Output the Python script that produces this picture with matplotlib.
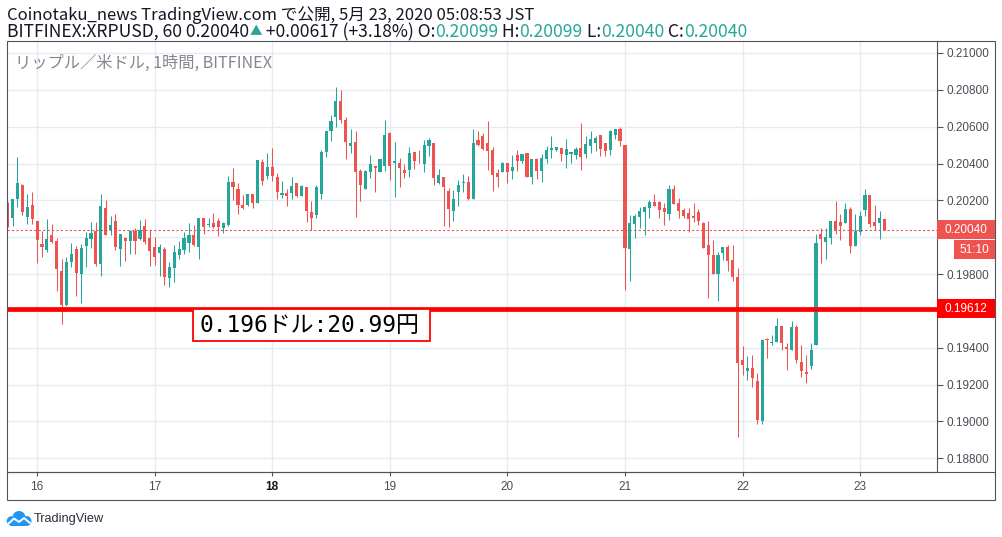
import matplotlib
matplotlib.use("Agg")
import matplotlib.pyplot as plt
from matplotlib.patches import Rectangle, Circle
from matplotlib.lines import Line2D
import numpy as np
import pandas as pd

# hourly XRPUSD candles, 2020-05-15 18:00 .. 2020-05-23 05:00
first_bar = "2020-05-15 18:00"

opens = [
    0.20150, 0.20105, 0.20206, 0.20282, 0.20110, 0.20174, 0.20087, 0.19962, 0.19929, 0.20011,
    0.19978, 0.19815, 0.19631, 0.19864, 0.19935, 0.19799, 0.19953, 0.19989, 0.20033, 0.19853,
    0.20157, 0.20040, 0.20087, 0.19937, 0.19996, 0.19980, 0.20033, 0.19989, 0.20060, 0.19995,
    0.19946, 0.19915, 0.19937, 0.19779, 0.19835, 0.19902, 0.19929, 0.19969, 0.20011, 0.19948,
    0.20103, 0.20065, 0.20076, 0.20087, 0.20051, 0.20065, 0.20299, 0.20261, 0.20174, 0.20174,
    0.20233, 0.20186, 0.20407, 0.20331, 0.20380, 0.20326, 0.20228, 0.20239, 0.20239, 0.20293,
    0.20223, 0.20271, 0.20136, 0.20119, 0.20232, 0.20462, 0.20579, 0.20655, 0.20737, 0.20639,
    0.20494, 0.20519, 0.20358, 0.20264, 0.20353, 0.20384, 0.20353, 0.20389, 0.20565, 0.20402,
    0.20405, 0.20367, 0.20366, 0.20462, 0.20405, 0.20398, 0.20494, 0.20514, 0.20293, 0.20329,
    0.20253, 0.20145, 0.20243, 0.20297, 0.20302, 0.20210, 0.20529, 0.20551, 0.20513, 0.20475,
    0.20350, 0.20356, 0.20405, 0.20361, 0.20448, 0.20415, 0.20459, 0.20329, 0.20426, 0.20361,
    0.20426, 0.20475, 0.20475, 0.20486, 0.20448, 0.20453, 0.20448, 0.20486, 0.20453, 0.20497,
    0.20513, 0.20557, 0.20513, 0.20475, 0.20557, 0.20589, 0.20502, 0.19937, 0.20072, 0.20109,
    0.20136, 0.20157, 0.20190, 0.20190, 0.20157, 0.20127, 0.20261, 0.20185, 0.20147, 0.20130,
    0.20114, 0.20136, 0.20076, 0.19957, 0.19902, 0.19801, 0.19915, 0.19946, 0.19875, 0.19783,
    0.19332, 0.19274, 0.19289, 0.19218, 0.19000, 0.19449, 0.19424, 0.19433, 0.19519, 0.19407,
    0.19389, 0.19514, 0.19324, 0.19270, 0.19302, 0.19413, 0.20019, 0.19976, 0.19997, 0.20090,
    0.20084, 0.20079, 0.20155, 0.19954, 0.20030, 0.20149, 0.20231, 0.20084, 0.20079, 0.20099,
]
highs = [
    0.20192, 0.20210, 0.20436, 0.20291, 0.20233, 0.20246, 0.20087, 0.20033, 0.20101, 0.20071,
    0.19998, 0.19881, 0.19893, 0.19971, 0.19951, 0.19966, 0.20029, 0.20081, 0.20081, 0.20233,
    0.20201, 0.20118, 0.20125, 0.20016, 0.20002, 0.20042, 0.20052, 0.20092, 0.20101, 0.20042,
    0.20002, 0.19962, 0.19949, 0.19864, 0.19957, 0.19978, 0.20027, 0.20076, 0.20065, 0.20103,
    0.20103, 0.20103, 0.20130, 0.20103, 0.20081, 0.20331, 0.20375, 0.20293, 0.20228, 0.20233,
    0.20233, 0.20418, 0.20424, 0.20456, 0.20483, 0.20348, 0.20304, 0.20261, 0.20326, 0.20293,
    0.20282, 0.20271, 0.20195, 0.20282, 0.20474, 0.20579, 0.20661, 0.20814, 0.20800, 0.20652,
    0.20585, 0.20579, 0.20371, 0.20366, 0.20449, 0.20389, 0.20425, 0.20639, 0.20570, 0.20519,
    0.20429, 0.20398, 0.20492, 0.20462, 0.20471, 0.20529, 0.20541, 0.20514, 0.20373, 0.20329,
    0.20266, 0.20259, 0.20308, 0.20344, 0.20335, 0.20585, 0.20578, 0.20564, 0.20633, 0.20491,
    0.20372, 0.20410, 0.20405, 0.20448, 0.20475, 0.20453, 0.20459, 0.20426, 0.20432, 0.20453,
    0.20497, 0.20551, 0.20491, 0.20486, 0.20535, 0.20464, 0.20491, 0.20622, 0.20551, 0.20578,
    0.20551, 0.20557, 0.20513, 0.20584, 0.20589, 0.20600, 0.20502, 0.20119, 0.20125, 0.20163,
    0.20168, 0.20201, 0.20233, 0.20195, 0.20185, 0.20282, 0.20282, 0.20212, 0.20157, 0.20157,
    0.20185, 0.20152, 0.20081, 0.20089, 0.19986, 0.19919, 0.19948, 0.19960, 0.19957, 0.19832,
    0.19408, 0.19354, 0.19359, 0.19265, 0.19449, 0.19454, 0.19471, 0.19563, 0.19519, 0.19427,
    0.19547, 0.19525, 0.19413, 0.19362, 0.19427, 0.20019, 0.20050, 0.20050, 0.20090, 0.20198,
    0.20128, 0.20187, 0.20166, 0.20128, 0.20144, 0.20263, 0.20231, 0.20176, 0.20144, 0.20099,
]
lows = [
    0.20056, 0.20060, 0.20165, 0.20119, 0.20074, 0.20074, 0.19861, 0.19893, 0.19920, 0.19969,
    0.19709, 0.19531, 0.19625, 0.19839, 0.19681, 0.19643, 0.19839, 0.19942, 0.19843, 0.19790,
    0.20013, 0.20011, 0.19929, 0.19844, 0.19871, 0.19909, 0.19909, 0.19985, 0.19966, 0.19844,
    0.19848, 0.19788, 0.19741, 0.19730, 0.19757, 0.19882, 0.19911, 0.19920, 0.19951, 0.19882,
    0.20018, 0.20056, 0.20052, 0.20007, 0.20025, 0.20062, 0.20201, 0.20125, 0.20152, 0.20168,
    0.20157, 0.20186, 0.20282, 0.20315, 0.20304, 0.20206, 0.20212, 0.20168, 0.20206, 0.20217,
    0.20223, 0.20081, 0.20042, 0.20103, 0.20208, 0.20434, 0.20525, 0.20597, 0.20620, 0.20422,
    0.20456, 0.20109, 0.20199, 0.20264, 0.20324, 0.20248, 0.20353, 0.20358, 0.20308, 0.20221,
    0.20275, 0.20324, 0.20329, 0.20371, 0.20402, 0.20353, 0.20443, 0.20281, 0.20290, 0.20063,
    0.20058, 0.20087, 0.20167, 0.20244, 0.20203, 0.20210, 0.20497, 0.20473, 0.20367, 0.20252,
    0.20274, 0.20356, 0.20296, 0.20318, 0.20361, 0.20405, 0.20329, 0.20290, 0.20318, 0.20301,
    0.20405, 0.20432, 0.20470, 0.20415, 0.20377, 0.20405, 0.20426, 0.20367, 0.20432, 0.20459,
    0.20470, 0.20443, 0.20443, 0.20448, 0.20535, 0.20497, 0.19715, 0.19761, 0.19996, 0.20051,
    0.20011, 0.20105, 0.20168, 0.20105, 0.20067, 0.20094, 0.20179, 0.20105, 0.20105, 0.20027,
    0.20083, 0.20067, 0.19942, 0.19671, 0.19801, 0.19652, 0.19875, 0.19817, 0.19763, 0.18916,
    0.19251, 0.19224, 0.19187, 0.18985, 0.18987, 0.19347, 0.19413, 0.19433, 0.19389, 0.19281,
    0.19389, 0.19315, 0.19244, 0.19210, 0.19286, 0.19413, 0.19862, 0.19883, 0.19965, 0.20019,
    0.19986, 0.20079, 0.19916, 0.19954, 0.20014, 0.20117, 0.20057, 0.20041, 0.19992, 0.20040,
]
closes = [
    0.20110, 0.20205, 0.20295, 0.20138, 0.20165, 0.20098, 0.19984, 0.19948, 0.19989, 0.19975,
    0.19826, 0.19631, 0.19864, 0.19908, 0.19806, 0.19940, 0.19995, 0.20022, 0.19853, 0.20168,
    0.20013, 0.20065, 0.19948, 0.20016, 0.19980, 0.20033, 0.19980, 0.20042, 0.19975, 0.19926,
    0.19893, 0.19949, 0.19785, 0.19839, 0.19919, 0.19935, 0.19996, 0.20011, 0.19957, 0.20103,
    0.20056, 0.20071, 0.20056, 0.20056, 0.20076, 0.20299, 0.20273, 0.20176, 0.20157, 0.20233,
    0.20186, 0.20418, 0.20304, 0.20380, 0.20331, 0.20244, 0.20239, 0.20223, 0.20277, 0.20223,
    0.20277, 0.20141, 0.20103, 0.20271, 0.20462, 0.20579, 0.20633, 0.20742, 0.20637, 0.20516,
    0.20510, 0.20353, 0.20286, 0.20358, 0.20400, 0.20375, 0.20425, 0.20557, 0.20389, 0.20413,
    0.20375, 0.20351, 0.20456, 0.20413, 0.20402, 0.20503, 0.20530, 0.20319, 0.20340, 0.20275,
    0.20154, 0.20205, 0.20286, 0.20302, 0.20210, 0.20514, 0.20502, 0.20479, 0.20470, 0.20339,
    0.20329, 0.20405, 0.20356, 0.20383, 0.20415, 0.20453, 0.20329, 0.20426, 0.20361, 0.20432,
    0.20475, 0.20486, 0.20491, 0.20453, 0.20481, 0.20464, 0.20481, 0.20437, 0.20508, 0.20535,
    0.20540, 0.20481, 0.20470, 0.20578, 0.20589, 0.20524, 0.19943, 0.20076, 0.20114, 0.20141,
    0.20163, 0.20190, 0.20168, 0.20148, 0.20136, 0.20261, 0.20179, 0.20143, 0.20116, 0.20098,
    0.20103, 0.20089, 0.19942, 0.19904, 0.19801, 0.19902, 0.19946, 0.19871, 0.19785, 0.19318,
    0.19307, 0.19289, 0.19236, 0.19006, 0.19443, 0.19440, 0.19433, 0.19519, 0.19424, 0.19391,
    0.19514, 0.19335, 0.19275, 0.19259, 0.19389, 0.19970, 0.19992, 0.20003, 0.20090, 0.20041,
    0.20062, 0.20155, 0.19954, 0.20035, 0.20117, 0.20231, 0.20073, 0.20062, 0.20106, 0.20040,
]

price_ticks = [0.188, 0.190, 0.192, 0.194, 0.196, 0.198, 0.200, 0.202, 0.204, 0.206, 0.208, 0.210]
hidden_ticks = [0.196, 0.200]  # these labels sit under the price tags
last_price = 0.20040
support = 0.19612
countdown = "51:10"
note = "0.196ドル:20.99円"

header1 = "Coinotaku_news TradingView.com で公開, 5月 23, 2020 05:08:53 JST"
header2 = [("BITFINEX:XRPUSD, 60 0.20040", "dark"), ("▲", "up"), (" +0.00617 (+3.18%) O:", "dark"),
           ("0.20099", "up"), (" H:", "dark"), ("0.20099", "up"), (" L:", "dark"),
           ("0.20040", "up"), (" C:", "dark"), ("0.20040", "up")]
legend = "リップル／米ドル, 1時間, BITFINEX"

W, H = 1002, 537
UP, DOWN = "#26a69a", "#ef5350"
GRID = "#e4ecf2"
AXIS = "#50535e"
TXT = "#4a4d56"
DARK = "#131722"
JP = ["Noto Sans CJK JP", "DejaVu Sans"]
plt.rcParams["font.family"] = ["Liberation Sans", "DejaVu Sans"]

L, T, R, B = 7, 41, 937, 472  # plot box in pixels
ymax = 0.210651
ymin = 0.187259

o, h, l, c = (np.array(v) for v in (opens, highs, lows, closes))
times = pd.date_range(first_bar, periods=len(c), freq="h")
x = np.arange(len(c))


def fbox(x0, y0, x1, y1):
    return [x0 / W, 1 - y1 / H, (x1 - x0) / W, (y1 - y0) / H]


def py(p):
    return T + (ymax - p) / (ymax - ymin) * (B - T)


fig = plt.figure(figsize=(W / 100, H / 100), dpi=100)
fig.patch.set_facecolor("white")
ax = fig.add_axes(fbox(L, T, R, B))
ax.set_xlim(-0.14, 189.7)
ax.set_ylim(ymin, ymax)

colors = np.where(c >= o, UP, DOWN)
ax.vlines(x, l, h, colors=colors, lw=0.75, zorder=3)
body = np.maximum(np.abs(c - o), 0.00002)
ax.bar(x, body, bottom=np.minimum(o, c), width=0.64, color=colors, lw=0, zorder=4)

ax.axhline(support, color="#ff0000", lw=3.4, zorder=5)
ax.axhline(last_price, color=DOWN, lw=0.8, ls=(0, (2, 2)), zorder=2)

# grid / ticks
ax.set_axisbelow(True)
ax.set_yticks(price_ticks)
ax.set_yticklabels(["" if any(abs(v - hv) < 1e-9 for hv in hidden_ticks) else f"{v:.5f}"
                    for v in price_ticks])
ax.yaxis.tick_right()
midnight = times.hour == 0
ax.set_xticks(x[midnight])
ax.set_xticklabels([])
for xi, t in zip(x[midnight], times[midnight]):
    ax.text(xi, -(487 - B) / (B - T), str(t.day), transform=ax.get_xaxis_transform(),
            ha="center", va="center", fontsize=8.5, color=TXT if t.weekday() else DARK,
            fontweight="bold" if t.weekday() == 0 else "normal")
ax.grid(True, color=GRID, lw=1)
ax.tick_params(axis="y", length=4, width=0.8, color=AXIS, labelcolor=TXT, labelsize=8.5, pad=3)
ax.tick_params(axis="x", length=3, width=0.8, color=AXIS)
for side in ("top", "left"):
    ax.spines[side].set_visible(False)
for side in ("right", "bottom"):
    ax.spines[side].set_color(AXIS)
    ax.spines[side].set_linewidth(0.8)

# outer frame
fig.patches.append(Rectangle((L / W, 1 - 500 / H), (995 - L) / W, (500 - T) / H,
                             transform=fig.transFigure, fill=False, ec=AXIS, lw=0.8))
fig.lines.append(Line2D([L / W, 995 / W], [1 - B / H] * 2, transform=fig.transFigure,
                        color=AXIS, lw=0.8))


def price_tag(p, text, col, x0=937, x1=995, y0=None, y1=None):
    yc = py(p)
    if y0 is None:
        y0, y1 = yc - 9.5, yc + 9.5
    fig.patches.append(Rectangle((x0 / W, 1 - y1 / H), (x1 - x0) / W, (y1 - y0) / H,
                                 transform=fig.transFigure, fc=col, ec="none", zorder=5))
    fig.text((x0 + x1) / 2 / W, 1 - (y0 + y1) / 2 / H, text, color="white", fontsize=8.5,
             ha="center", va="center", zorder=6)


price_tag(last_price, f"{last_price:.5f}", DOWN)
yl = py(last_price)
price_tag(last_price, countdown, DOWN, x0=954, y0=yl + 10.5, y1=yl + 29.5)
price_tag(support, f"{support:.5f}", "#ff0000")

# note box under the support line
fig.patches.append(Rectangle((193 / W, 1 - 341 / H), (430 - 193) / W, (341 - 309) / H,
                             transform=fig.transFigure, fc="white", ec="#ff0000", lw=1.3, zorder=6))
fig.text(309 / W, 1 - 325.5 / H, note, fontsize=16.5, color="black", ha="center", va="center",
         family=["DejaVu Sans Mono", "Noto Sans CJK JP"], zorder=7)

# header lines
fig.text(7 / W, 1 - 15 / H, header1, fontsize=12, color=DARK, family=JP, va="center")
renderer = fig.canvas.get_renderer()
xpos = 7
for s, kind in header2:
    t = fig.text(xpos / W, 1 - 32 / H, s, fontsize=9 if s == "▲" else 12.6,
                 color=UP if kind == "up" else DARK, family=JP, va="center")
    xpos += t.get_window_extent(renderer).width
ax.text(8 / (R - L), 1 - (63 - T) / (B - T), legend, transform=ax.transAxes, fontsize=11.7,
        color="#858891", family=JP, va="center")

# TradingView logo
lax = fig.add_axes(fbox(5, 508, 33, 527))
lax.set_xlim(0, 28)
lax.set_ylim(0, 19)
lax.axis("off")
for cx, cy, r in [(6.5, 6, 4.8), (14, 9.5, 6.5), (21.5, 6, 5)]:
    lax.add_patch(Circle((cx, cy), r, fc="#2196f3", ec="none"))
lax.add_patch(Rectangle((6.5, 1.2), 15, 5, fc="#2196f3", ec="none"))
lax.plot([3, 9, 14, 19, 25], [3, 8.5, 5, 9, 4], color="white", lw=1.4, solid_capstyle="round")
fig.text(34 / W, 1 - 519 / H, "TradingView", fontsize=9.2, color="#2a2e39", va="center")

fig.savefig("out.png", dpi=100)
